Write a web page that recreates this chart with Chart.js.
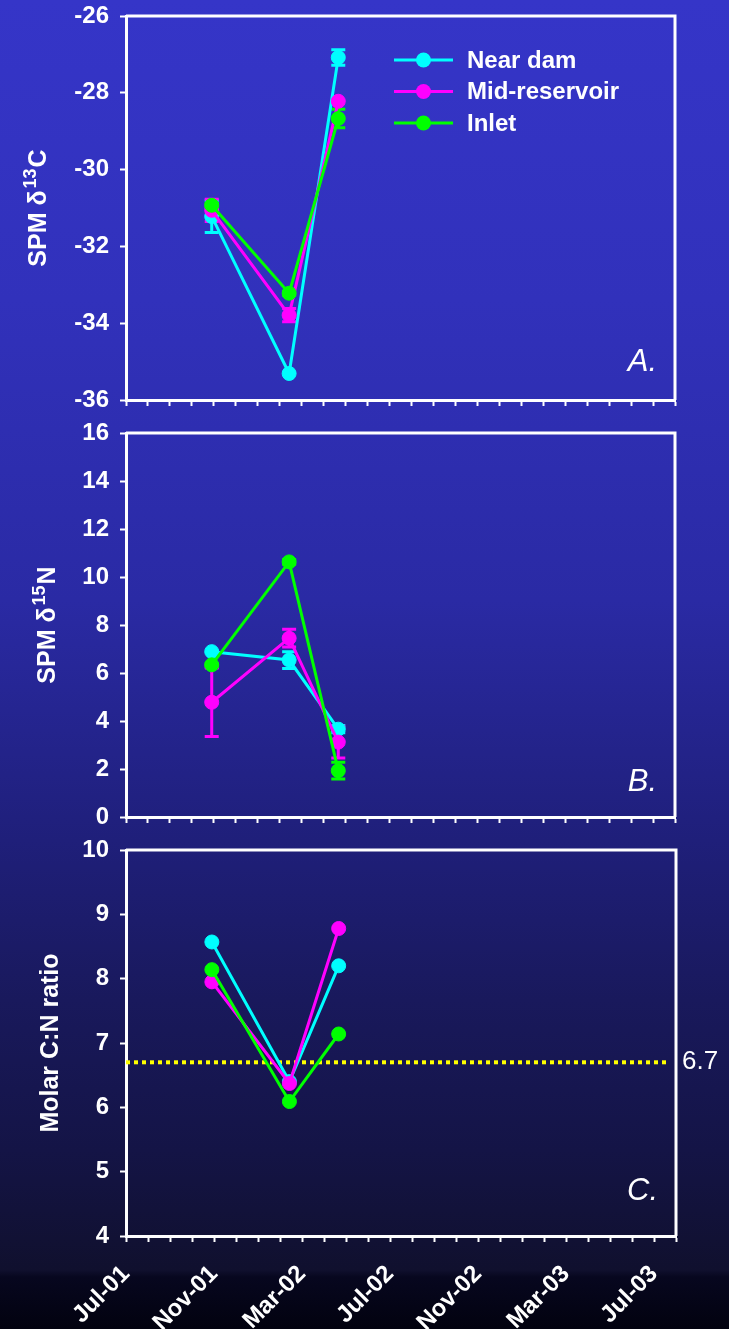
<!DOCTYPE html>
<html>
<head>
<meta charset="utf-8">
<script src="https://cdn.jsdelivr.net/npm/chart.js@4.4.1/dist/chart.umd.min.js"></script>
<style>
  html, body { margin: 0; padding: 0; }
  body {
    width: 729px; height: 1329px; overflow: hidden; position: relative;
    background: linear-gradient(to bottom,
      #3535c8 0px, #3131bb 300px, #2a2aa4 600px, #1f1f7a 840px,
      #19195c 1000px, #141446 1150px, #10102e 1270px, #07071f 1277px, #02020f 1329px);
  }
  canvas { position: absolute; left: 0; }
</style>
</head>
<body>
<canvas id="chartA" width="729" height="420" style="top:0"></canvas>
<canvas id="chartB" width="729" height="420" style="top:420px"></canvas>
<canvas id="chartC" width="729" height="489" style="top:840px"></canvas>
<script>
// --- Dados ---
const sampleDates = ['2001-10-29', '2002-02-13', '2002-04-21'];
const seriesNames = ['Near dam', 'Mid-reservoir', 'Inlet'];
const seriesColors = ['#00ffff', '#ff00ff', '#00ff00'];
const xTickLabels = ['Jul-01', 'Nov-01', 'Mar-02', 'Jul-02', 'Nov-02', 'Mar-03', 'Jul-03'];

// A. SPM d13C
const c13NearDam = [-31.22, -35.31, -27.08];
const c13NearDamErr = [0.42, 0, 0.2];
const c13Mid = [-31.06, -33.79, -28.22];
const c13MidErr = [0.29, 0.17, 0];
const c13Inlet = [-30.93, -33.22, -28.67];
const c13InletErr = [0.05, 0.05, 0.24];

// B. SPM d15N
const n15NearDam = [6.89, 6.54, 3.66];
const n15NearDamErr = [0, 0.35, 0.15];
const n15Mid = [4.78, 7.45, 3.12];
const n15MidErr = [1.43, 0.37, 0.66];
const n15Inlet = [6.34, 10.63, 1.93];
const n15InletErr = [0.05, 0.1, 0.35];

// C. razao molar C:N
const cnNearDam = [8.57, 6.40, 8.20];
const cnMid = [7.95, 6.37, 8.78];
const cnInlet = [8.14, 6.09, 7.14];
const cnThreshold = 6.7;

// --- Utilitarios ---
// meses desde Jul-01 (eixo x linear)
function mesesDesdeJul01(s) {
  const [y, m, d] = s.split('-').map(Number);
  const diasNoMes = new Date(y, m, 0).getDate();
  return (y - 2001) * 12 + (m - 7) + (d - 1) / diasNoMes;
}
const xMeses = sampleDates.map(mesesDesdeJul01);

const fonte = '"Liberation Sans", Arial, sans-serif';

function serie(i, valores, erros) {
  return {
    label: seriesNames[i],
    data: valores.map((v, k) => ({ x: xMeses[k], y: v })),
    errors: erros || null,
    borderColor: seriesColors[i],
    backgroundColor: seriesColors[i],
    pointBackgroundColor: seriesColors[i],
    pointBorderColor: seriesColors[i],
    borderWidth: 3,
    pointRadius: 7,
    pointHoverRadius: 7,
    pointBorderWidth: 1,
    tension: 0,
    order: 3 - i
  };
}

// --- Plugins ---
const barrasErro = {
  id: 'barrasErro',
  beforeDatasetsDraw(chart) {
    const { ctx } = chart;
    const sx = chart.scales.x, sy = chart.scales.y;
    chart.data.datasets.forEach(ds => {
      if (!ds.errors) return;
      ctx.save();
      ctx.strokeStyle = ds.borderColor;
      ctx.lineWidth = 3;
      ds.data.forEach((p, k) => {
        const e = ds.errors[k];
        if (!e) return;
        const px = sx.getPixelForValue(p.x);
        const top = sy.getPixelForValue(p.y + e);
        const bot = sy.getPixelForValue(p.y - e);
        ctx.beginPath();
        ctx.moveTo(px, top); ctx.lineTo(px, bot);
        ctx.moveTo(px - 7, top); ctx.lineTo(px + 7, top);
        ctx.moveTo(px - 7, bot); ctx.lineTo(px + 7, bot);
        ctx.stroke();
      });
      ctx.restore();
    });
  }
};

const moldura = {
  id: 'moldura',
  afterDatasetsDraw(chart, args, opts) {
    const { ctx, chartArea: a } = chart;
    ctx.save();
    ctx.strokeStyle = '#fff';
    ctx.lineWidth = 3;
    ctx.beginPath();
    ctx.moveTo(a.left, a.top); ctx.lineTo(a.right, a.top); ctx.lineTo(a.right, a.bottom);
    ctx.stroke();
    // letra do painel
    ctx.fillStyle = '#fff';
    ctx.font = 'italic 31px ' + fonte;
    ctx.textAlign = 'right';
    ctx.textBaseline = 'alphabetic';
    ctx.fillText(opts.letra, a.right - 18, a.bottom - opts.letraY);
    if (opts.refLabel) {
      const y = chart.scales.y.getPixelForValue(cnThreshold);
      ctx.font = '26px ' + fonte;
      ctx.textAlign = 'left';
      ctx.textBaseline = 'middle';
      ctx.fillText(String(cnThreshold), a.right + 6, y);
    }
    ctx.restore();
  }
};

const tituloY = {
  id: 'tituloY',
  afterDraw(chart, args, opts) {
    const { ctx, chartArea: a } = chart;
    const grande = 'bold 25px ' + fonte;
    const pequena = 'bold 18px ' + fonte;
    ctx.save();
    ctx.translate(opts.x, (a.top + a.bottom) / 2);
    ctx.rotate(-Math.PI / 2);
    ctx.fillStyle = '#fff';
    ctx.textBaseline = 'alphabetic';
    let total = 0;
    opts.partes.forEach(p => { ctx.font = p.sup ? pequena : grande; total += ctx.measureText(p.t).width + (p.sup ? 3 : 0); });
    let cx = -total / 2;
    opts.partes.forEach(p => {
      ctx.font = p.sup ? pequena : grande;
      ctx.fillText(p.t, cx + (p.sup ? 2 : 0), p.sup ? -10 : 0);
      cx += ctx.measureText(p.t).width + (p.sup ? 3 : 0);
    });
    ctx.restore();
  }
};

const legendaInterna = {
  id: 'legendaInterna',
  afterDraw(chart, args, opts) {
    if (!opts.mostrar) return;
    const { ctx, chartArea: a } = chart;
    ctx.save();
    seriesNames.forEach((nome, i) => {
      const y = a.top + 44 + i * 31.5;
      const x0 = a.left + 268;
      ctx.strokeStyle = seriesColors[i];
      ctx.fillStyle = seriesColors[i];
      ctx.lineWidth = 3;
      ctx.beginPath(); ctx.moveTo(x0, y); ctx.lineTo(x0 + 59, y); ctx.stroke();
      ctx.beginPath(); ctx.arc(x0 + 29.5, y, 7.5, 0, Math.PI * 2); ctx.fill();
      ctx.fillStyle = '#fff';
      ctx.font = 'bold 24px ' + fonte;
      ctx.textBaseline = 'middle';
      ctx.fillText(nome, x0 + 73, y + 1);
    });
    ctx.restore();
  }
};

// --- Montagem dos graficos ---
function criaGrafico(id, cfg) {
  return new Chart(document.getElementById(id), {
    type: 'line',
    data: { datasets: cfg.datasets },
    options: {
      responsive: false,
      animation: false,
      events: [],
      layout: { padding: { top: cfg.padTop, right: cfg.padRight, left: 0, bottom: 0 } },
      scales: {
        x: {
          type: 'linear',
          min: 0, max: 25,
          grid: { display: true, drawOnChartArea: false, drawTicks: true, tickLength: 6, tickColor: '#fff', tickWidth: 2 },
          border: { display: true, color: '#fff', width: 3 },
          ticks: {
            stepSize: 1, maxTicksLimit: 100, autoSkip: false,
            minRotation: 45, maxRotation: 45, padding: 18,
            color: '#fff', font: { family: fonte, size: 24, weight: 'bold' },
            callback: v => (cfg.xLabels && v % 4 === 0 && v <= 24) ? xTickLabels[v / 4] : ''
          },
          afterFit(s) { s.height = cfg.xAltura; s.paddingLeft = 0; s.paddingRight = 0; }
        },
        y: {
          min: cfg.yMin, max: cfg.yMax,
          grid: { display: true, drawOnChartArea: false, drawTicks: true, tickLength: 6, tickColor: '#fff', tickWidth: 2 },
          border: { display: true, color: '#fff', width: 3 },
          ticks: {
            stepSize: cfg.yStep, padding: 11,
            color: '#fff', font: { family: fonte, size: 24, weight: 'bold' }
          },
          afterFit(s) { s.width = 126; s.paddingTop = 0; s.paddingBottom = 0; }
        }
      },
      plugins: {
        legend: { display: false },
        tooltip: { enabled: false },
        tituloY: { x: cfg.tituloX, partes: cfg.titulo },
        moldura: { letra: cfg.letra, letraY: cfg.letraY, refLabel: cfg.refLabel || false },
        legendaInterna: { mostrar: cfg.legenda || false }
      }
    },
    plugins: [barrasErro, moldura, tituloY, legendaInterna]
  });
}

criaGrafico('chartA', {
  datasets: [
    serie(0, c13NearDam, c13NearDamErr),
    serie(1, c13Mid, c13MidErr),
    serie(2, c13Inlet, c13InletErr)
  ],
  padTop: 16, padRight: 54, xAltura: 20,
  yMin: -36, yMax: -26, yStep: 2,
  tituloX: 46, titulo: [{ t: 'SPM \u03b4' }, { t: '13', sup: true }, { t: 'C' }],
  letra: 'A.', letraY: 29, legenda: true
});

criaGrafico('chartB', {
  datasets: [
    serie(0, n15NearDam, n15NearDamErr),
    serie(1, n15Mid, n15MidErr),
    serie(2, n15Inlet, n15InletErr)
  ],
  padTop: 13, padRight: 54, xAltura: 23,
  yMin: 0, yMax: 16, yStep: 2,
  tituloX: 55, titulo: [{ t: 'SPM \u03b4' }, { t: '15', sup: true }, { t: 'N' }],
  letra: 'B.', letraY: 26
});

criaGrafico('chartC', {
  datasets: [
    serie(0, cnNearDam),
    serie(1, cnMid),
    serie(2, cnInlet),
    {
      label: 'C:N 6.7',
      data: [{ x: 0, y: cnThreshold }, { x: 24.7, y: cnThreshold }],
      borderColor: '#ffff00',
      borderWidth: 4,
      borderDash: [4, 4],
      pointRadius: 0,
      order: 10
    }
  ],
  padTop: 10, padRight: 53, xAltura: 93,
  yMin: 4, yMax: 10, yStep: 1,
  tituloX: 58, titulo: [{ t: 'Molar C:N ratio' }],
  letra: 'C.', letraY: 36, refLabel: true, xLabels: true
});
</script>
</body>
</html>
